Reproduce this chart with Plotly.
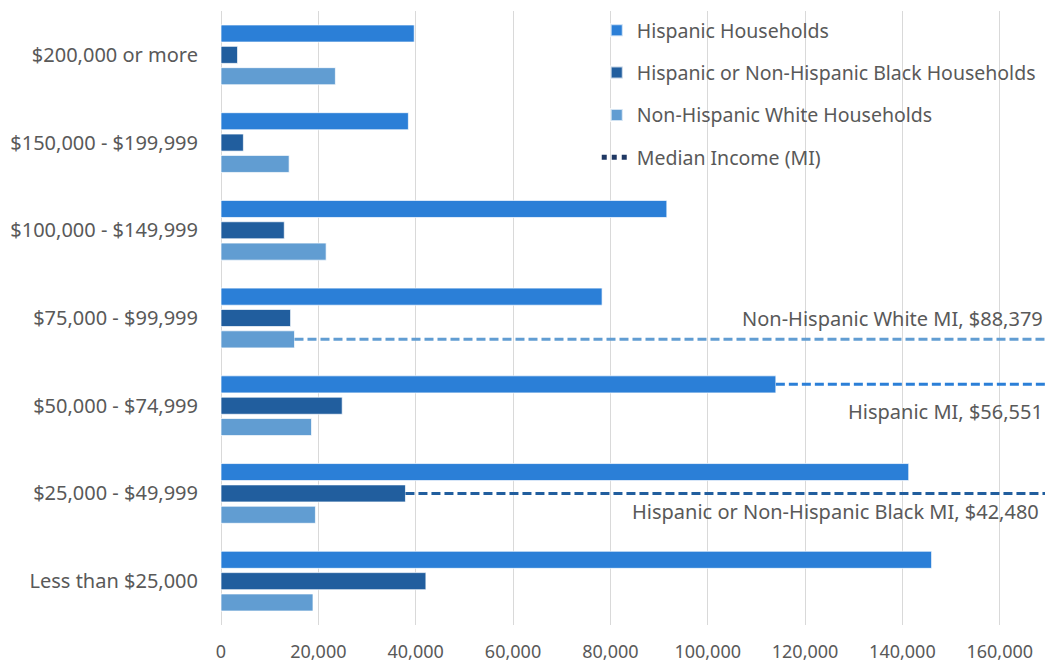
import plotly.graph_objects as go

categories = ["Less than $25,000", "$25,000 - $49,999", "$50,000 - $74,999",
              "$75,000 - $99,999", "$100,000 - $149,999", "$150,000 - $199,999",
              "$200,000 or more"]
hispanic = [146000, 141300, 114000, 78300, 91600, 38500, 39700]
black = [42100, 37900, 24900, 14300, 13000, 4600, 3400]
white = [18900, 19400, 18600, 15100, 21600, 14000, 23500]

series_names = ["Hispanic Households", "Hispanic or Non-Hispanic Black Households",
                "Non-Hispanic White Households"]
mi_labels = ["Non-Hispanic White MI, $88,379", "Hispanic MI, $56,551",
             "Hispanic or Non-Hispanic Black MI, $42,480"]
x_tick_vals = [0, 20000, 40000, 60000, 80000, 100000, 120000, 140000, 160000]

C_HISP = "#2B7FD7"
C_BLACK = "#215E9E"
C_WHITE = "#619DD2"
C_MI = "#1F3864"
TXT = "#595959"
FONT = "Noto Sans"
FS = 20

XMAX = 169300
BARGAP = 0.27
SLOT = (1 - BARGAP) / 3
ypos = list(range(len(categories)))

fig = go.Figure()
# Bottom slot first: White, Black, Hispanic (Hispanic top in each group)
for name, vals, col, rank in [(series_names[2], white, C_WHITE, 3),
                              (series_names[1], black, C_BLACK, 2),
                              (series_names[0], hispanic, C_HISP, 1)]:
    fig.add_trace(go.Bar(y=ypos, x=vals, orientation="h", name=name,
                         marker=dict(color=col, line=dict(color="rgba(255,255,255,0.7)", width=1)),
                         legendrank=rank, legendgroup=name))

# Median income lines: from bar end to axis edge
idx_white = categories.index("$75,000 - $99,999")
idx_hisp = categories.index("$50,000 - $74,999")
idx_black = categories.index("$25,000 - $49,999")
lines = [(white[idx_white], idx_white - SLOT, C_WHITE),
         (hispanic[idx_hisp], idx_hisp + SLOT, C_HISP),
         (black[idx_black], idx_black, C_BLACK)]
for x0, yv, col in lines:
    fig.add_trace(go.Scatter(x=[x0, XMAX], y=[yv, yv], mode="lines",
                             line=dict(color=col, width=3, dash="9px,4px"),
                             showlegend=False, hoverinfo="skip"))

fig.add_trace(go.Scatter(x=[None], y=[None], mode="lines", name="Median Income (MI)",
                         line=dict(color=C_MI, width=3, dash="dot"), legendrank=4,
                         legendgroup="mi"))

# MI labels
fig.add_annotation(x=1, xref="paper", y=idx_white, yref="y", text=mi_labels[0],
                   showarrow=False, xanchor="right", yanchor="middle",
                   font=dict(size=FS, color=TXT, family=FONT))
fig.add_annotation(x=1, xref="paper", y=idx_hisp - 0.07, yref="y", text=mi_labels[1],
                   showarrow=False, xanchor="right", yanchor="middle",
                   font=dict(size=FS, color=TXT, family=FONT))
fig.add_annotation(x=0.995, xref="paper", y=idx_black - 0.21, yref="y", text=mi_labels[2],
                   showarrow=False, xanchor="right", yanchor="middle",
                   font=dict(size=FS, color=TXT, family=FONT))

fig.update_layout(
    width=1048, height=665,
    margin=dict(l=221, r=3, t=11, b=40, autoexpand=False),
    paper_bgcolor="white", plot_bgcolor="white",
    barmode="group", bargap=BARGAP, bargroupgap=0.2,
    font=dict(family=FONT, size=FS, color=TXT),
    legend=dict(x=0.456, y=1.0, xanchor="left", yanchor="top",
                bgcolor="rgba(255,255,255,0)", font=dict(size=19.5, color=TXT),
                tracegroupgap=14, itemsizing="constant", itemwidth=30),
    showlegend=True,
)
fig.update_xaxes(range=[0, XMAX], tickvals=x_tick_vals, tickformat=",d",
                 showgrid=True, gridcolor="#D9D9D9", gridwidth=1,
                 zeroline=True, zerolinecolor="#D9D9D9", zerolinewidth=1,
                 showline=False, ticks="", ticklabelstandoff=14, automargin=False,
                 tickfont=dict(size=18, color=TXT))
fig.update_yaxes(tickvals=ypos, ticktext=categories, range=[-0.5, len(categories) - 0.5],
                 showgrid=False, zeroline=False, showline=False, ticks="",
                 ticklabelstandoff=22, automargin=False,
                 tickfont=dict(size=FS, color=TXT))

fig.write_html("out.html")
